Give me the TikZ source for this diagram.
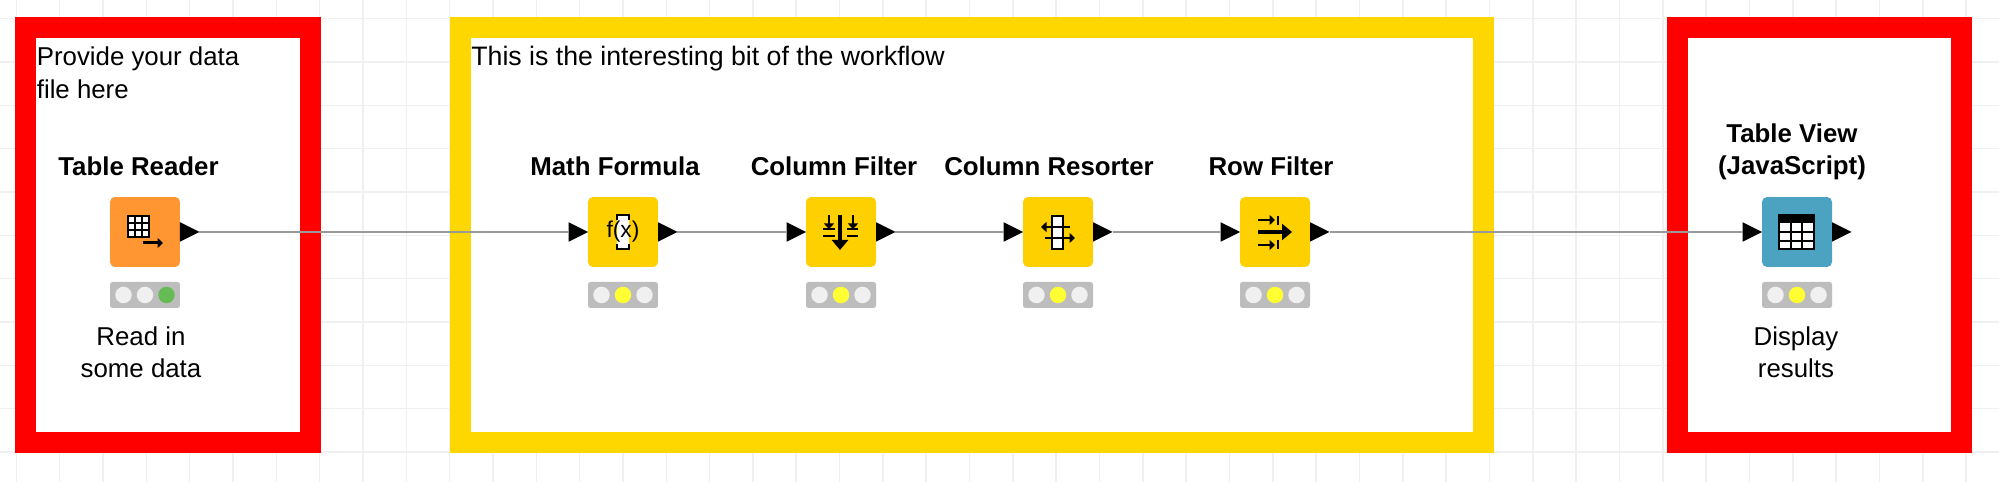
\documentclass[tikz,border=0pt]{standalone}
\usepackage{fontspec}
\setmainfont{Liberation Sans}
\usepackage{tikz}
\usetikzlibrary{positioning, shapes.geometric, arrows.meta}

\definecolor{readerorange}{HTML}{FF9632}
\definecolor{nodeyellow}{HTML}{FFD000}
\definecolor{viewblue}{HTML}{4CA2C1}
\definecolor{framegold}{HTML}{FFD700}
\definecolor{barGray}{HTML}{BDBDBD}
\definecolor{lightoff}{HTML}{F0F0F0}
\definecolor{lighton}{HTML}{FFFF33}
\definecolor{lightgo}{HTML}{66BB55}

\tikzset{
  canvasgrid/.style={draw=black!6, line width=0.03cm},
  redframe/.style={draw=red, fill=white, line width=0.42cm},
  goldframe/.style={draw=framegold, fill=white, line width=0.42cm},
  knime/.style={minimum size=1.4cm, inner sep=0pt, outer sep=0pt, rounded corners=0.1cm},
  statusbar/.style={fill=barGray, minimum width=1.4cm, minimum height=0.52cm, inner sep=0pt, outer sep=0pt, rounded corners=0.05cm, below=0.3cm of #1},
  light/.style={circle, minimum size=0.33cm, inner sep=0pt},
  port/.style={isosceles triangle, isosceles triangle apex angle=60, isosceles triangle stretches, fill=black, minimum width=0.39cm, minimum height=0.39cm, inner sep=0pt, outer sep=0pt},
  wire/.style={draw=black!40, line width=0.04cm},
  title/.style={font=\fontsize{14.7}{18.7}\selectfont\bfseries, align=center, inner sep=0pt, anchor=base},
  note/.style={font=\fontsize{14.7}{18.7}\selectfont, align=center, inner sep=0pt, anchor=base},
  comment/.style={font=\fontsize{14.7}{18.7}\selectfont, align=left, inner sep=0pt, anchor=base west},
  icon/.style={draw=black, line width=0.05cm},
  iconthick/.style={draw=black, line width=0.08cm, -{Triangle[length=0.2cm,width=0.32cm]}},
  iconthin/.style={draw=black, line width=0.05cm, -{Triangle[length=0.11cm,width=0.2cm]}},
}

\newcommand{\statuslights}[4]{
  \node[light, fill=#2] (#1a) at ([xshift=-0.43cm]#1.center) {};
  \node[light, fill=#3] (#1b) at (#1.center) {};
  \node[light, fill=#4] (#1c) at ([xshift=0.43cm]#1.center) {};
}

\begin{document}
\begin{tikzpicture}[x=0.02cm, y=-0.02cm]
  \useasboundingbox (0, 0) rectangle (1999, 482);
  \fill[white] (0, 0) rectangle (1999, 482);

  % Canvas
  \foreach \gx in {0, ..., 45}
    \draw[canvasgrid] ({16.3 + 43.33*\gx}, 0) -- ({16.3 + 43.33*\gx}, 482);
  \foreach \gy in {0, ..., 10}
    \draw[canvasgrid] (0, {18.7 + 43.33*\gy}) -- (1999, {18.7 + 43.33*\gy});

  % Frames
  \draw[redframe] (25.5, 28) rectangle (310, 442.5);
  \draw[goldframe] (460, 28) rectangle (1483.5, 442.5);
  \draw[redframe] (1677, 28) rectangle (1961.5, 442.5);

  % Workflow nodes
  \node[knime, fill=readerorange] (reader) at (145, 232) {};
  \node[knime, fill=nodeyellow] (math) at (623, 232) {};
  \node[knime, fill=nodeyellow] (colfilter) at (841, 232) {};
  \node[knime, fill=nodeyellow] (resorter) at (1058, 232) {};
  \node[knime, fill=nodeyellow] (rowfilter) at (1275, 232) {};
  \node[knime, fill=viewblue] (view) at (1797, 232) {};

  % Ports
  \node[port, right=0pt of reader] (readerout) {};
  \node[port, left=0pt of math] (mathin) {};
  \node[port, right=0pt of math] (mathout) {};
  \node[port, left=0pt of colfilter] (colfilterin) {};
  \node[port, right=0pt of colfilter] (colfilterout) {};
  \node[port, left=0pt of resorter] (resorterin) {};
  \node[port, right=0pt of resorter] (resorterout) {};
  \node[port, left=0pt of rowfilter] (rowfilterin) {};
  \node[port, right=0pt of rowfilter] (rowfilterout) {};
  \node[port, left=0pt of view] (viewin) {};
  \node[port, right=0pt of view] (viewout) {};

  % Connectors
  \draw[wire] (readerout) -- (mathin);
  \draw[wire] (mathout) -- (colfilterin);
  \draw[wire] (colfilterout) -- (resorterin);
  \draw[wire] (resorterout) -- (rowfilterin);
  \draw[wire] (rowfilterout) -- (viewin);

  % Status bars
  \node[statusbar=reader] (readerbar) {};
  \node[statusbar=math] (mathbar) {};
  \node[statusbar=colfilter] (colfilterbar) {};
  \node[statusbar=resorter] (resorterbar) {};
  \node[statusbar=rowfilter] (rowfilterbar) {};
  \node[statusbar=view] (viewbar) {};
  \statuslights{readerbar}{lightoff}{lightoff}{lightgo}
  \statuslights{mathbar}{lightoff}{lighton}{lightoff}
  \statuslights{colfilterbar}{lightoff}{lighton}{lightoff}
  \statuslights{resorterbar}{lightoff}{lighton}{lightoff}
  \statuslights{rowfilterbar}{lightoff}{lighton}{lightoff}
  \statuslights{viewbar}{lightoff}{lighton}{lightoff}

  % Icons
  \draw[icon, fill=white, line width=0.04cm] (128, 216) rectangle (149, 237);
  \draw[icon, line width=0.03cm] (135, 216) -- (135, 237) (142, 216) -- (142, 237);
  \draw[icon, line width=0.03cm] (128, 223) -- (149, 223) (128, 230) -- (149, 230);
  \draw[iconthin, line width=0.06cm] (143, 243) -- (163, 243);

  \fill[white] (617, 215) rectangle (629, 249);
  \draw[icon] (617, 220) -- (617, 215) -- (629, 215) -- (629, 220);
  \draw[icon] (617, 244) -- (617, 249) -- (629, 249) -- (629, 244);
  \node[inner sep=0pt, font=\fontsize{13}{13}\selectfont] (mathglyph) at (623, 232) {f(x)};

  \draw[iconthick, line width=0.08cm] (840, 215) -- (840, 250);
  \draw[iconthin] (829, 215) -- (829, 229);
  \draw[iconthin] (853, 215) -- (853, 229);
  \draw[icon] (823, 229) -- (835, 229) (823, 236) -- (835, 236);
  \draw[icon] (847, 229) -- (858, 229) (847, 236) -- (858, 236);

  \draw[icon, fill=white] (1052, 216) rectangle (1063, 249);
  \draw[icon] (1052, 227) -- (1063, 227) (1052, 238) -- (1063, 238);
  \draw[iconthin] (1070, 227) -- (1041, 227);
  \draw[iconthin] (1045, 238) -- (1075, 238);

  \draw[iconthin] (1258, 220) -- (1275, 220);
  \draw[icon] (1278, 216) -- (1278, 225);
  \draw[iconthick] (1258, 232) -- (1292, 232);
  \draw[iconthin] (1258, 245) -- (1275, 245);
  \draw[icon] (1278, 240) -- (1278, 249);

  \fill[white] (1779, 215) rectangle (1814, 249);
  \fill[black] (1779, 215) rectangle (1814, 223);
  \draw[icon, line width=0.04cm] (1779, 215) rectangle (1814, 249);
  \draw[icon, line width=0.04cm] (1779, 232) -- (1814, 232) (1779, 241) -- (1814, 241);
  \draw[icon, line width=0.04cm] (1791, 223) -- (1791, 249) (1802, 223) -- (1802, 249);

  % Texts
  \node[comment] (provide) at (36.5, 98.5) {Provide your data\\file here};
  \node[comment, font=\fontsize{15.2}{18.7}\selectfont] (interesting) at (471, 65.5) {This is the interesting bit of the workflow};

  \node[title] (readertitle) at (138.5, 176) {Table Reader};
  \node[title] (mathtitle) at (615, 176) {Math Formula};
  \node[title] (colfiltertitle) at (834, 176) {Column Filter};
  \node[title] (resortertitle) at (1049, 176) {Column Resorter};
  \node[title] (rowfiltertitle) at (1271, 176) {Row Filter};
  \node[title] (viewtitle) at (1792, 175) {Table View\\(JavaScript)};

  \node[note] (readernote) at (141, 378) {Read in\\some data};
  \node[note] (viewnote) at (1796, 378) {Display\\results};
\end{tikzpicture}
\end{document}
